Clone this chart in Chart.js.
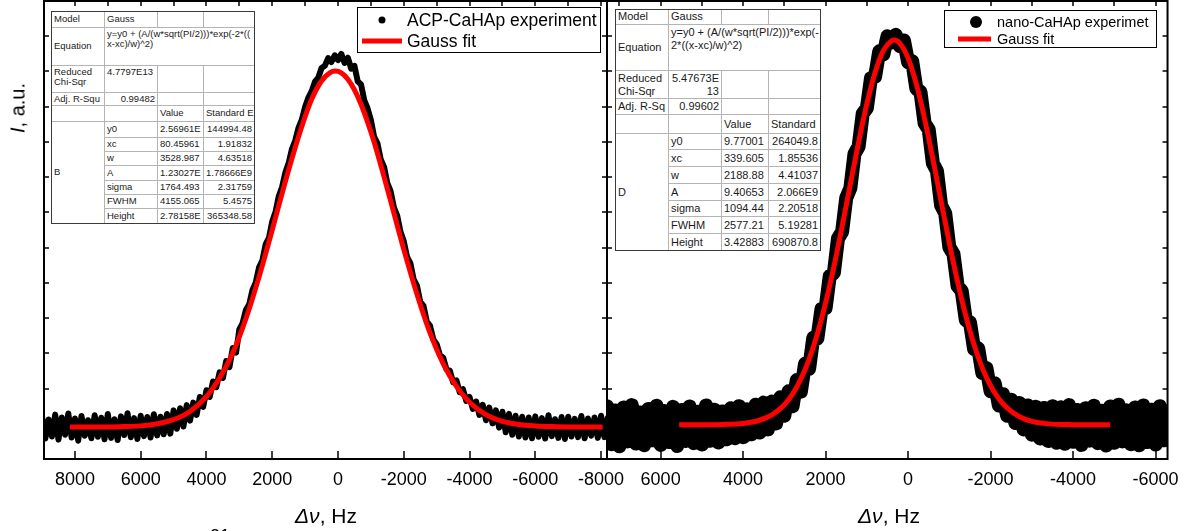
<!DOCTYPE html>
<html><head><meta charset="utf-8">
<script src="https://cdn.jsdelivr.net/npm/chart.js@4.4.1/dist/chart.umd.min.js"></script>
<style>
html,body{margin:0;padding:0;background:#fff;}
body{width:1189px;height:531px;overflow:hidden;position:relative;font-family:"Liberation Sans",Arial,sans-serif;color:#000;}
canvas{position:absolute;top:0;}
#cL{left:0;z-index:1}
#cR{left:600px;z-index:2}
.tbl{position:absolute;z-index:5;border-collapse:collapse;table-layout:fixed;background:#fff;color:#1a1a1a;outline:1px solid #3a3a3a;outline-offset:-1px;}
.tbl td{border:1px solid #b4b4b4;padding:0 2px;vertical-align:middle;white-space:nowrap;overflow:hidden;}
.tbl td.r{text-align:right}
.tbl td.t{vertical-align:top;padding-top:1px}
.ttl{position:absolute;z-index:6;white-space:nowrap;transform:translate(-50%,-50%);}
</style></head><body>
<canvas id="cL" width="640" height="531"></canvas>
<canvas id="cR" width="589" height="531"></canvas>
<div class="ttl" style="left:17.5px;top:108px;font-size:20px;transform:translate(-50%,-50%) rotate(-90deg);"><i>I</i>, a.u.</div>
<div class="ttl" style="left:326px;top:516px;font-size:21px;"><i>Δν</i>, Hz</div>
<div class="ttl" style="left:889px;top:516px;font-size:21px;"><i>Δν</i>, Hz</div>
<div style="position:absolute;left:210px;top:526px;font-size:18px;z-index:6;">31</div>
<script>
// ---------------- data ----------------
const leftTicks = [8000, 6000, 4000, 2000, 0, -2000, -4000, -6000, -8000];
const rightTicks = [6000, 4000, 2000, 0, -2000, -4000, -6000];
const yTickValues = [10, 20, 30, 40, 50, 60, 70, 80, 90, 100, 110, 120];

const leftExpStart = 9000, leftExpStep = -100;
const leftExpY = [
 12.0, 5.8, 11.2, 6.4, 12.6, 5.5, 11.8, 6.9, 12.9, 6.1,
 11.5, 5.2, 12.2, 6.6, 11.0, 5.9, 12.4, 6.3, 11.7, 5.6,
 12.8, 6.0, 11.3, 5.4, 12.1, 6.8, 13.0, 6.2, 11.6, 5.7,
 12.3, 6.5, 11.9, 6.1, 12.7, 6.7, 12.0, 7.0, 12.8, 7.2,
 13.8, 8.6, 14.4, 9.2, 15.3, 10.9, 16.0, 12.5, 17.6, 14.8,
 19.5, 17.6, 22.0, 20.4, 24.6, 23.0, 27.8, 26.1, 31.5, 30.2,
 36.8, 38.6, 42.3, 43.9, 48.0, 50.1, 54.4, 56.3, 60.9, 62.8,
 67.4, 70.1, 74.6, 77.2, 81.3, 84.0, 88.0, 90.4, 94.0, 96.3,
 99.9, 102.6, 104.4, 107.1, 108.2, 111.0, 111.6, 113.8, 112.7, 114.6,
 113.2, 115.0, 112.4, 113.9, 110.8, 111.6, 107.2, 106.3, 101.8, 99.5,
 96.2, 91.4, 89.6, 85.0, 82.9, 78.3, 76.0, 71.4, 69.1, 64.5,
 61.8, 57.4, 55.6, 51.0, 49.2, 44.7, 43.5, 39.0, 37.8, 33.9,
 32.6, 29.5, 28.7, 25.4, 25.1, 21.8, 22.3, 19.0, 19.8, 16.5,
 17.6, 14.2, 16.3, 12.5, 15.4, 11.0, 14.6, 10.1, 13.8, 8.9,
 13.4, 7.6, 12.8, 6.9, 12.3, 6.4, 12.0, 6.1, 11.8, 5.9,
 12.1, 6.3, 11.6, 5.8, 12.4, 6.5, 11.3, 6.0, 11.9, 5.7,
 12.0, 6.4, 11.4, 6.2, 12.2, 5.9, 11.5, 6.6, 11.8, 6.0,
 12.3, 6.2, 11.6
];
const leftFitX = [8150, 7500, 7000, 6500, 6000, 5500, 5000, 4500, 4000, 3600, 3200, 2800, 2400, 2000, 1700, 1400, 1100, 800, 500, 250, 80, -100, -300, -500, -700, -900, -1100, -1400, -1700, -2000, -2400, -2800, -3200, -3600, -4000, -4500, -5000, -5500, -6000, -6500, -7000, -7500, -8050];
const leftFitY = [9.1, 9.1, 9.1, 9.2, 9.4, 10.0, 11.2, 13.5, 17.7, 23.0, 30.1, 39.8, 51.7, 65.0, 75.4, 85.3, 94.4, 102.1, 107.3, 109.6, 110.1, 109.6, 107.8, 104.8, 100.7, 95.6, 89.9, 80.1, 69.8, 59.5, 46.8, 35.7, 27.0, 20.6, 16.1, 12.6, 10.7, 9.8, 9.4, 9.2, 9.1, 9.1, 9.1];

const rightExpStart = 7300, rightExpStep = -100;
const rightExpY = [
 15.0, 4.2, 13.8, 3.6, 14.6, 5.0, 15.3, 4.4, 13.2, 3.9,
 14.2, 5.3, 15.1, 4.0, 13.6, 4.8, 14.8, 3.7, 13.9, 5.1,
 14.9, 4.5, 13.4, 4.1, 15.2, 5.2, 14.0, 4.7, 13.5, 5.6,
 14.4, 5.9, 15.0, 6.2, 14.1, 7.0, 15.4, 7.5, 16.0, 8.4,
 16.3, 10.1, 17.5, 12.3, 19.2, 15.0, 22.4, 19.1, 27.0, 25.6,
 34.4, 34.2, 42.6, 42.8, 51.9, 52.8, 62.6, 64.5, 74.1, 76.9,
 86.6, 88.7, 98.0, 99.6, 108.1, 108.5, 115.7, 114.8, 120.0, 118.2,
 120.4, 117.2, 118.8, 112.6, 112.9, 105.1, 104.2, 95.3, 93.5, 84.0,
 81.7, 72.0, 69.7, 60.1, 58.2, 49.1, 47.7, 39.4, 38.8, 31.2,
 31.4, 24.4, 25.8, 19.2, 21.5, 15.2, 18.4, 12.3, 16.8, 10.2,
 15.9, 8.4, 15.2, 6.9, 14.8, 5.8, 14.5, 5.1, 15.0, 4.6,
 14.7, 4.3, 15.3, 4.9, 13.9, 4.0, 14.4, 5.2, 15.1, 4.5,
 13.7, 3.8, 14.9, 4.6, 15.4, 5.0, 13.8, 4.2, 14.6, 3.9,
 15.2, 4.8, 14.0, 4.1, 15.0, 5.3, 13.6
];
const rightFitX = [5550, 5000, 4500, 4000, 3600, 3300, 3000, 2800, 2600, 2400, 2200, 2000, 1800, 1600, 1400, 1200, 1000, 800, 600, 400, 340, 200, 0, -200, -400, -600, -800, -1000, -1200, -1400, -1600, -1800, -2000, -2200, -2400, -2700, -3000, -3500, -4000, -4500, -4900];
const rightFitY = [9.7, 9.7, 9.8, 10.1, 11.0, 12.5, 15.4, 18.4, 22.7, 28.3, 35.5, 44.3, 54.5, 66.0, 78.0, 89.9, 100.8, 109.7, 115.9, 118.7, 118.9, 118.0, 113.8, 106.4, 96.6, 85.2, 73.2, 61.3, 50.3, 40.6, 32.4, 25.8, 20.8, 17.1, 14.5, 12.0, 10.7, 9.9, 9.75, 9.7, 9.7];

// fit-report tables
const leftEquation = ['y=y0 + (A/(w*sqrt(PI/2)))*exp(-2*((', 'x-xc)/w)^2)'];
const rightEquation = ['y=y0 + (A/(w*sqrt(PI/2)))*exp(-', '2*((x-xc)/w)^2)'];
const paramNames = ['y0', 'xc', 'w', 'A', 'sigma', 'FWHM', 'Height'];
const leftValues = ['2.56961E', '80.45961', '3528.987', '1.23027E', '1764.493', '4155.065', '2.78158E'];
const leftErrors = ['144994.48', '1.91832', '4.63518', '1.78666E9', '2.31759', '5.4575', '365348.58'];
const rightValues = ['9.77001', '339.605', '2188.88', '9.40653', '1094.44', '2577.21', '3.42883'];
const rightErrors = ['264049.8', '1.85536', '4.41037', '2.066E9', '2.20518', '5.19281', '690870.8'];

// ---------------- rendering ----------------
const family = '"Liberation Sans", Arial, Helvetica, sans-serif';
Chart.defaults.font.family = family;

const framePlugin = {
  id: 'frame',
  afterDatasetsDraw(chart) {
    const {ctx, chartArea: a, scales: {x, y}} = chart;
    ctx.save();
    ctx.strokeStyle = '#000';
    ctx.lineWidth = 2;
    ctx.strokeRect(a.left, a.top, a.right - a.left, a.bottom - a.top);
    ctx.lineWidth = 1.5;
    ctx.beginPath();
    x.ticks.forEach(t => {
      const px = Math.round(x.getPixelForValue(t.value));
      ctx.moveTo(px, a.bottom); ctx.lineTo(px, a.bottom - 8);
    });
    for (let v = Math.ceil(x.min / 1000) * 1000; v <= x.max; v += 1000) {
      const px = Math.round(x.getPixelForValue(v));
      ctx.moveTo(px, a.top); ctx.lineTo(px, a.top + 5);
    }
    yTickValues.forEach(v => {
      const py = Math.round(y.getPixelForValue(v));
      ctx.moveTo(a.left, py); ctx.lineTo(a.left + 5, py);
      ctx.moveTo(a.right, py); ctx.lineTo(a.right - 5, py);
    });
    ctx.stroke();
    ctx.restore();
  }
};

const boxLegend = {
  id: 'boxLegend',
  afterDraw(chart, args, o) {
    const ctx = chart.ctx;
    ctx.save();
    ctx.fillStyle = '#fff';
    ctx.fillRect(o.left, o.top, o.width, o.height);
    ctx.strokeStyle = '#000';
    ctx.lineWidth = 1;
    ctx.strokeRect(o.left + 0.5, o.top + 0.5, o.width, o.height);
    ctx.font = o.fontSize + 'px ' + family;
    ctx.textBaseline = 'middle';
    chart.data.datasets.forEach((ds, i) => {
      const yy = o.rows[i];
      if (i === 0) {
        ctx.beginPath();
        ctx.arc(o.dotX, yy, o.dotR, 0, Math.PI * 2);
        ctx.fillStyle = ds.borderColor;
        ctx.fill();
      } else {
        ctx.beginPath();
        ctx.moveTo(o.lineX0, yy); ctx.lineTo(o.lineX1, yy);
        ctx.strokeStyle = ds.borderColor;
        ctx.lineWidth = ds.borderWidth;
        ctx.stroke();
      }
      ctx.fillStyle = '#000';
      ctx.fillText(ds.label, o.textX, yy + 1);
    });
    ctx.restore();
  }
};

function makeChart(id, o) {
  const expData = o.expY.map((v, i) => ({x: o.expStart + i * o.expStep, y: v}));
  const fitData = o.fitX.map((v, i) => ({x: v, y: o.fitY[i]}));
  return new Chart(document.getElementById(id), {
    type: 'line',
    data: {datasets: [
      {label: o.expLabel, data: expData, borderColor: '#000', backgroundColor: '#000',
       borderWidth: o.expWidth, pointRadius: 0, borderJoinStyle: 'round', borderCapStyle: 'round',
       tension: 0, clip: 0, order: 2},
      {label: 'Gauss fit', data: fitData, borderColor: '#ff0000', backgroundColor: '#ff0000',
       borderWidth: 5, pointRadius: 0, cubicInterpolationMode: 'monotone', clip: 0, order: 1}
    ]},
    options: {
      responsive: false, animation: false, devicePixelRatio: 1, events: [],
      layout: {padding: o.padding},
      scales: {
        x: {type: 'linear', reverse: true, min: o.xMin, max: o.xMax,
            afterBuildTicks: s => { s.ticks = o.ticks.map(v => ({value: v})); },
            afterFit: s => { s.height = 72; },
            grid: {display: false, drawTicks: false}, border: {display: false},
            ticks: {font: {size: 18, family}, color: '#000', padding: 10, maxRotation: 0,
                    autoSkip: false, callback: v => String(v)}},
        y: {type: 'linear', min: 0, max: 130, display: false}
      },
      plugins: {legend: {display: false}, tooltip: {enabled: false}, boxLegend: o.legend}
    },
    plugins: [framePlugin, boxLegend]
  });
}

makeChart('cL', {
  expY: leftExpY, expStart: leftExpStart, expStep: leftExpStep, expWidth: 6,
  fitX: leftFitX, fitY: leftFitY, expLabel: 'ACP-CaHAp experiment',
  xMin: -8180, xMax: 8940, ticks: leftTicks,
  padding: {left: 44, right: 33, top: 1, bottom: 0},
  legend: {left: 357, top: 7, width: 243, height: 45, fontSize: 17.5, dotX: 382, dotR: 3.5,
           lineX0: 362, lineX1: 402, textX: 407, rows: [20, 41]}
});
makeChart('cR', {
  expY: rightExpY, expStart: rightExpStart, expStep: rightExpStep, expWidth: 14,
  fitX: rightFitX, fitY: rightFitY, expLabel: 'nano-CaHAp experimet',
  xMin: -6290, xMax: 7300, ticks: rightTicks,
  padding: {left: 7, right: 19, top: 1, bottom: 0},
  legend: {left: 344, top: 10, width: 212, height: 37, fontSize: 14.5, dotX: 376, dotR: 6,
           lineX0: 358, lineX1: 391, textX: 397, rows: [22, 39]}
});

function buildTable(c) {
  const t = document.createElement('table');
  t.className = 'tbl';
  t.style.left = c.left + 'px';
  t.style.top = c.top + 'px';
  t.style.fontSize = c.fontSize + 'px';
  t.style.lineHeight = c.lineHeight;
  t.style.width = c.cols.reduce((s, w) => s + w, 0) + 'px';
  let h = '<colgroup>' + c.cols.map(w => '<col style="width:' + w + 'px">').join('') + '</colgroup>';
  const r = c.rows;
  h += '<tr style="height:' + r[0] + 'px"><td>Model</td><td>Gauss</td><td></td><td></td></tr>';
  h += '<tr style="height:' + r[1] + 'px"><td>Equation</td><td class="t" colspan="3">' + c.equation.join('<br>') + '</td></tr>';
  h += '<tr style="height:' + r[2] + 'px"><td class="t">Reduced<br>Chi-Sqr</td><td class="t' + (c.chiRight ? ' r' : '') + '">' + c.chi + '</td><td></td><td></td></tr>';
  h += '<tr style="height:' + r[3] + 'px"><td>' + c.adjLabel + '</td><td class="r">' + c.adj + '</td><td></td><td></td></tr>';
  h += '<tr style="height:' + r[4] + 'px"><td></td><td></td><td>Value</td><td>' + c.errHead + '</td></tr>';
  paramNames.forEach((p, i) => {
    h += '<tr style="height:' + r[5 + i] + 'px">' + (i === 0 ? '<td rowspan="7">' + c.group + '</td>' : '') +
      '<td>' + p + '</td><td>' + c.values[i] + '</td><td class="r">' + c.errors[i] + '</td></tr>';
  });
  t.innerHTML = h;
  document.body.appendChild(t);
}

buildTable({left: 51, top: 11, fontSize: 9.5, lineHeight: 1.1, cols: [53, 53, 46, 51],
  rows: [16, 38, 27, 13, 16, 16, 14, 14, 15, 14, 14, 15],
  equation: leftEquation, chi: '4.7797E13', chiRight: false, adjLabel: 'Adj. R-Squ', adj: '0.99482',
  errHead: 'Standard E', group: 'B', values: leftValues, errors: leftErrors});
buildTable({left: 615, top: 9, fontSize: 11, lineHeight: 1.2, cols: [53, 53, 47, 52],
  rows: [15, 46, 27, 16, 19, 16, 17, 17, 17, 16, 17, 17],
  equation: rightEquation, chi: '5.47673E<br>13', chiRight: true, adjLabel: 'Adj. R-Sq', adj: '0.99602',
  errHead: 'Standard', group: 'D', values: rightValues, errors: rightErrors});
</script>
</body></html>
